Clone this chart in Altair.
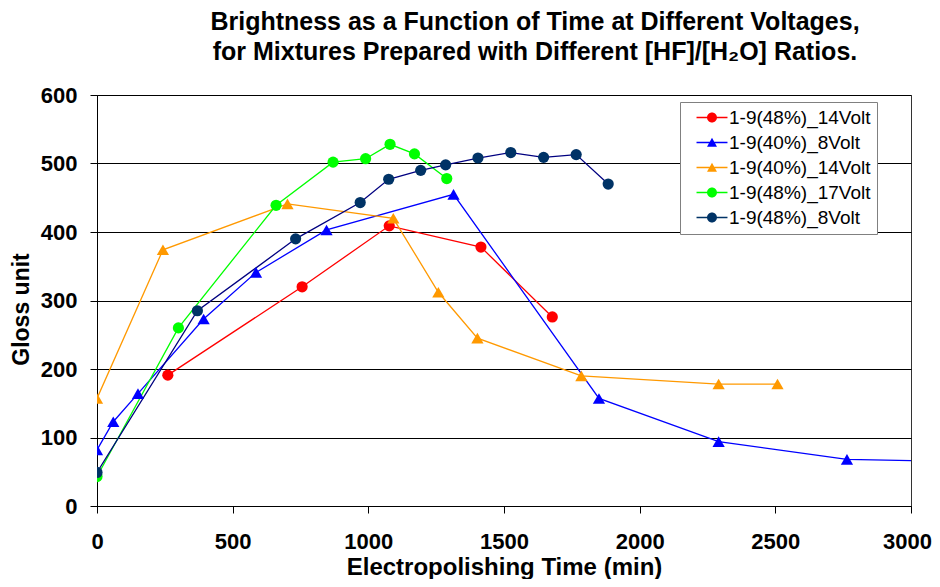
import altair as alt
import pandas as pd

SERIES = ["1-9(48%)_14Volt", "1-9(40%)_8Volt", "1-9(40%)_14Volt", "1-9(48%)_17Volt", "1-9(48%)_8Volt"]
LINE_COLORS = ["#FF0000", "#0000FF", "#FF9900", "#00FF00", "#000080"]
MARKER_COLORS = ["#FF0000", "#0000FF", "#FF9900", "#00FF00", "#003366"]
MARKERS = ["circle", "triangle", "triangle", "circle", "circle"]

s1_time = [261, 756, 1077, 1415, 1678]
s1_gloss = [191, 320, 409, 378, 276]
s2_time = [0, 60, 151, 393, 586, 846, 1314, 1850, 2291, 2764, 3400]
s2_gloss = [82, 123, 164, 273, 341, 403, 455, 157, 94, 68, 63]
s3_time = [0, 243, 702, 1092, 1258, 1402, 1785, 2291, 2508]
s3_gloss = [157, 374, 441, 420, 312, 245, 190, 178, 178]
s4_time = [0, 300, 660, 870, 990, 1080, 1170, 1289]
s4_gloss = [43, 260, 439, 502, 507, 528, 514, 478]
s5_time = [0, 370, 732, 970, 1075, 1193, 1285, 1404, 1525, 1646, 1766, 1884]
s5_gloss = [49, 285, 390, 443, 477, 490, 498, 508, 516, 509, 513, 470]

X_TICKS = [0, 500, 1000, 1500, 2000, 2500, 3000]
Y_TICKS = [0, 100, 200, 300, 400, 500, 600]

TITLE = ["Brightness as a Function of Time at Different Voltages,",
         "for Mixtures Prepared with Different [HF]/[H\u2082O] Ratios."]

times = [s1_time, s2_time, s3_time, s4_time, s5_time]
gloss = [s1_gloss, s2_gloss, s3_gloss, s4_gloss, s5_gloss]
rows = []
for name, mk, ts, gs in zip(SERIES, MARKERS, times, gloss):
    for t, g in zip(ts, gs):
        rows.append({"series": name, "marker": mk, "time": t, "gloss": g})
df = pd.DataFrame(rows)

FONT = "Liberation Sans"

# legend symbols: a thin bar (the line) with the marker on it, all filled, same winding
BAR = "M0.17,-0.11 L5.33,-0.11 L5.33,0.11 L0.17,0.11 Z "
CIRCLE_PATH = BAR + "M1.92,0 A0.83,0.83 0 1,1 3.58,0 A0.83,0.83 0 1,1 1.92,0 Z"
TRI_PATH = BAR + "M1.92,0.72 L2.75,-0.78 L3.58,0.72 Z"
LEGEND_SHAPES = [CIRCLE_PATH if m == "circle" else TRI_PATH for m in MARKERS]

x_enc = alt.X("time:Q", scale=alt.Scale(domain=[0, 3000], nice=False),
              axis=alt.Axis(values=X_TICKS, grid=False, tickSize=7, labelPadding=18,
                            format="d", labelFlush=False,
                            labelOffset={"condition": {"test": "datum.value >= 3000", "value": -4}, "value": 0},
                            title="Electropolishing Time (min)", titleY=49,
                            titleFontSize=24, titleBaseline="top"))
y_enc = alt.Y("gloss:Q", scale=alt.Scale(domain=[0, 600], nice=False),
              axis=alt.Axis(values=Y_TICKS, grid=True, tickSize=7, labelPadding=13,
                            format="d", labelFlush=False,
                            title="Gloss unit", titleX=-69, titleY=214, titleFontSize=23,
                            titleBaseline="alphabetic", titleAngle=270))

leg = alt.Legend(title=None, orient="none", legendX=583, legendY=7, symbolOpacity=1)

base = alt.Chart(df)

lines = base.mark_line(strokeWidth=1.3, clip=True).encode(
    x=x_enc, y=y_enc,
    stroke=alt.Stroke("series:N", scale=alt.Scale(domain=SERIES, range=LINE_COLORS), legend=None),
)

circles = base.transform_filter(alt.datum.marker == "circle").mark_point(
    shape="circle", filled=True, size=125, opacity=1, clip=True).encode(
    x="time:Q", y="gloss:Q",
    fill=alt.Fill("series:N", scale=alt.Scale(domain=SERIES, range=MARKER_COLORS), legend=None),
)

triangles = base.transform_filter(alt.datum.marker == "triangle").mark_point(
    shape="triangle-up", filled=True, size=150, opacity=1, clip=True).encode(
    x="time:Q", y="gloss:Q",
    fill=alt.Fill("series:N", scale=alt.Scale(domain=SERIES, range=MARKER_COLORS), legend=None),
)

legend_layer = base.mark_point(filled=True, opacity=0, clip=True).encode(
    x="time:Q", y="gloss:Q",
    shape=alt.Shape("series:N", scale=alt.Scale(domain=SERIES, range=LEGEND_SHAPES), legend=leg),
    color=alt.Color("series:N", scale=alt.Scale(domain=SERIES, range=MARKER_COLORS), legend=leg),
)

chart = alt.layer(lines, circles, triangles, legend_layer).resolve_scale(
    fill="independent", stroke="independent", shape="independent", color="independent"
).resolve_legend(
    fill="independent", stroke="independent", shape="independent", color="independent"
).properties(
    width=814, height=411,
    autosize=alt.AutoSizeParams(type="none"),
    padding={"left": 89, "top": 87, "right": 21, "bottom": 73},
    title=alt.TitleParams(text=TITLE, fontSize=25, font=FONT, fontWeight="bold",
                          anchor="middle", dx=31, offset=19, lineHeight=30, color="black"),
).configure_title(
    fontSize=25, font=FONT, fontWeight="bold", color="black"
).configure_view(
    stroke="#333333", strokeWidth=1
).configure_axis(
    labelFont=FONT, titleFont=FONT, labelFontSize=22,
    labelFontWeight="bold", titleFontWeight="bold", labelColor="black", titleColor="black",
    domainColor="black", tickColor="black", gridColor="black", gridWidth=1,
    domainWidth=1, tickWidth=1, gridOpacity=1
).configure_legend(
    labelFont=FONT, labelFontSize=19, labelColor="black",
    symbolSize=144, symbolStrokeWidth=0, symbolOpacity=1,
    fillColor="white", strokeColor="#808080", padding=6, rowPadding=5,
    labelOffset=24, labelLimit=300
)

chart.save("out.html", embed_options={"renderer": "svg", "actions": False})
